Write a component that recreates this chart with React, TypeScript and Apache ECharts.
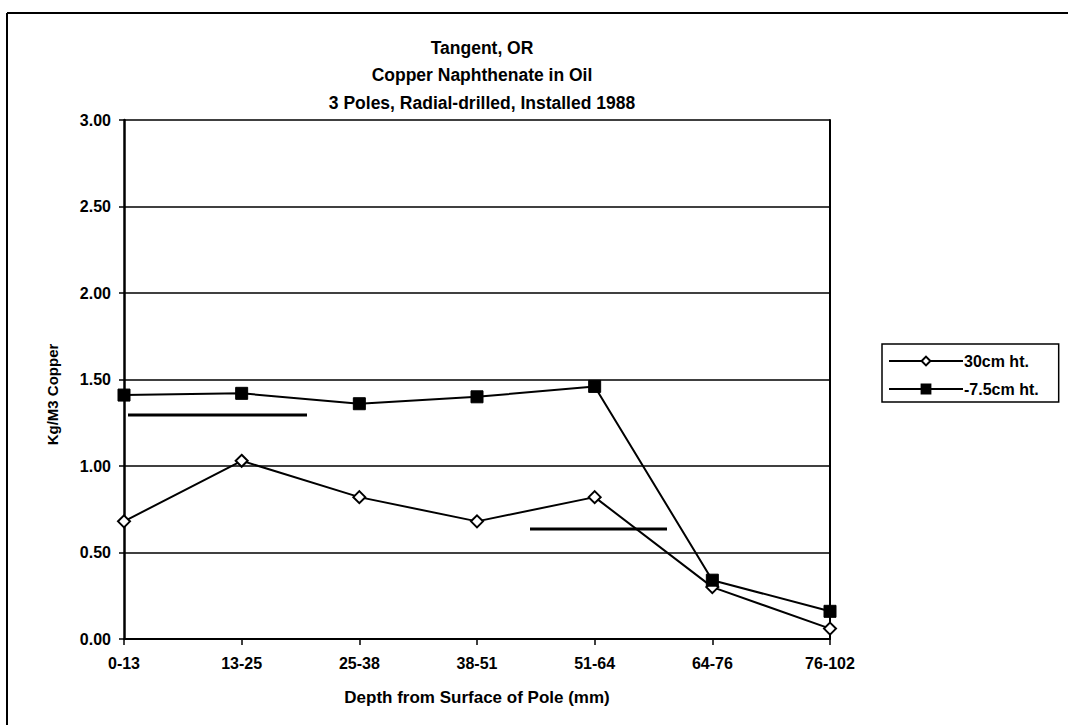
import React, { useEffect, useRef } from "react";
import * as echarts from "echarts";

const categories = ["0-13", "13-25", "25-38", "38-51", "51-64", "64-76", "76-102"];
const series30cm = [0.68, 1.03, 0.82, 0.68, 0.82, 0.30, 0.06];
const seriesMinus75 = [1.41, 1.42, 1.36, 1.40, 1.46, 0.34, 0.16];
const yTicks = [0, 0.5, 1.0, 1.5, 2.0, 2.5, 3.0];
const titleLines = ["Tangent, OR", "Copper Naphthenate in Oil", "3 Poles, Radial-drilled, Installed 1988"];
const seriesNames = ["30cm ht.", "-7.5cm ht."];

const FONT = "'Liberation Sans', Arial, sans-serif";

export default function App() {
  const ref = useRef<HTMLDivElement>(null);
  useEffect(() => {
    if (!ref.current) return;
    const chart = echarts.init(ref.current, null, { renderer: "svg" });
    chart.setOption({
      animation: false,
      backgroundColor: "#ffffff",
      textStyle: { fontFamily: FONT },
      title: {
        text: titleLines.join("\n"),
        left: 477,
        top: 29,
        textAlign: "center",
        textStyle: {
          fontFamily: FONT,
          fontSize: 17.5,
          fontWeight: "bold",
          color: "#000",
          lineHeight: 27.5,
        },
      },
      legend: {
        orient: "vertical",
        left: 882,
        top: 344,
        padding: [9, 20, 5, 6],
        itemGap: 12,
        itemWidth: 74,
        itemHeight: 11,
        borderColor: "#000",
        borderWidth: 1.5,
        data: seriesNames,
        textStyle: { fontFamily: FONT, fontSize: 16, fontWeight: "bold", color: "#000", padding: [0, 0, 0, -4] },
      },
      grid: { left: 124, right: 238, top: 120, bottom: 86, containLabel: false },
      xAxis: {
        type: "category",
        data: categories,
        boundaryGap: false,
        name: "Depth from Surface of Pole (mm)",
        nameLocation: "middle",
        nameGap: 50,
        nameTextStyle: { fontFamily: FONT, fontSize: 17, fontWeight: "bold", color: "#000" },
        axisLine: { lineStyle: { color: "#000", width: 2 } },
        axisTick: { show: true, alignWithLabel: true, length: 6, lineStyle: { color: "#000", width: 1.5 } },
        axisLabel: { fontFamily: FONT, fontSize: 16, fontWeight: "bold", color: "#000", margin: 16 },
        splitLine: { show: false },
      },
      yAxis: [
        {
          type: "value",
          min: yTicks[0],
          max: yTicks[yTicks.length - 1],
          interval: 0.5,
          name: "Kg/M3 Copper",
          nameLocation: "middle",
          nameGap: 64,
          nameRotate: 90,
          nameTextStyle: { fontFamily: FONT, fontSize: 15, fontWeight: "bold", color: "#000", padding: [0, 30, 0, 0] },
          axisLine: { show: true, lineStyle: { color: "#000", width: 2.5 } },
          axisTick: { show: true, length: 5, lineStyle: { color: "#000", width: 1.5 } },
          axisLabel: {
            fontFamily: FONT,
            fontSize: 16,
            fontWeight: "bold",
            color: "#000",
            margin: 13,
            formatter: (v: number) => v.toFixed(2),
          },
          splitLine: { show: true, lineStyle: { color: "#000", width: 1.5 } },
        },
        {
          type: "value",
          min: yTicks[0],
          max: yTicks[yTicks.length - 1],
          interval: 0.5,
          position: "right",
          axisLine: { show: true, lineStyle: { color: "#000", width: 2 } },
          axisTick: { show: false },
          axisLabel: { show: false },
          splitLine: { show: false },
        },
      ],
      series: [
        {
          name: seriesNames[0],
          type: "line",
          data: series30cm,
          symbol: "diamond",
          symbolSize: 12,
          lineStyle: { color: "#000", width: 2 },
          itemStyle: { color: "#fff", borderColor: "#000", borderWidth: 2 },
          z: 3,
        },
        {
          name: seriesNames[1],
          type: "line",
          data: seriesMinus75,
          symbol: "rect",
          symbolSize: 12,
          lineStyle: { color: "#000", width: 2 },
          itemStyle: { color: "#000", borderColor: "#000", borderWidth: 1 },
          z: 4,
        },
      ],
      graphic: [
        { type: "line", shape: { x1: 7, y1: 13, x2: 1068, y2: 13 }, style: { stroke: "#000", lineWidth: 2 } },
        { type: "line", shape: { x1: 7, y1: 13, x2: 7, y2: 725 }, style: { stroke: "#000", lineWidth: 2 } },
        { type: "line", shape: { x1: 128, y1: 415, x2: 307, y2: 415 }, style: { stroke: "#000", lineWidth: 3 } },
        { type: "line", shape: { x1: 530, y1: 529, x2: 667, y2: 529 }, style: { stroke: "#000", lineWidth: 3 } },
      ],
    });
    return () => chart.dispose();
  }, []);
  return (
    <div
      ref={ref}
      style={{ position: "fixed", left: 0, top: 0, width: 1068, height: 725, background: "#fff" }}
    />
  );
}
